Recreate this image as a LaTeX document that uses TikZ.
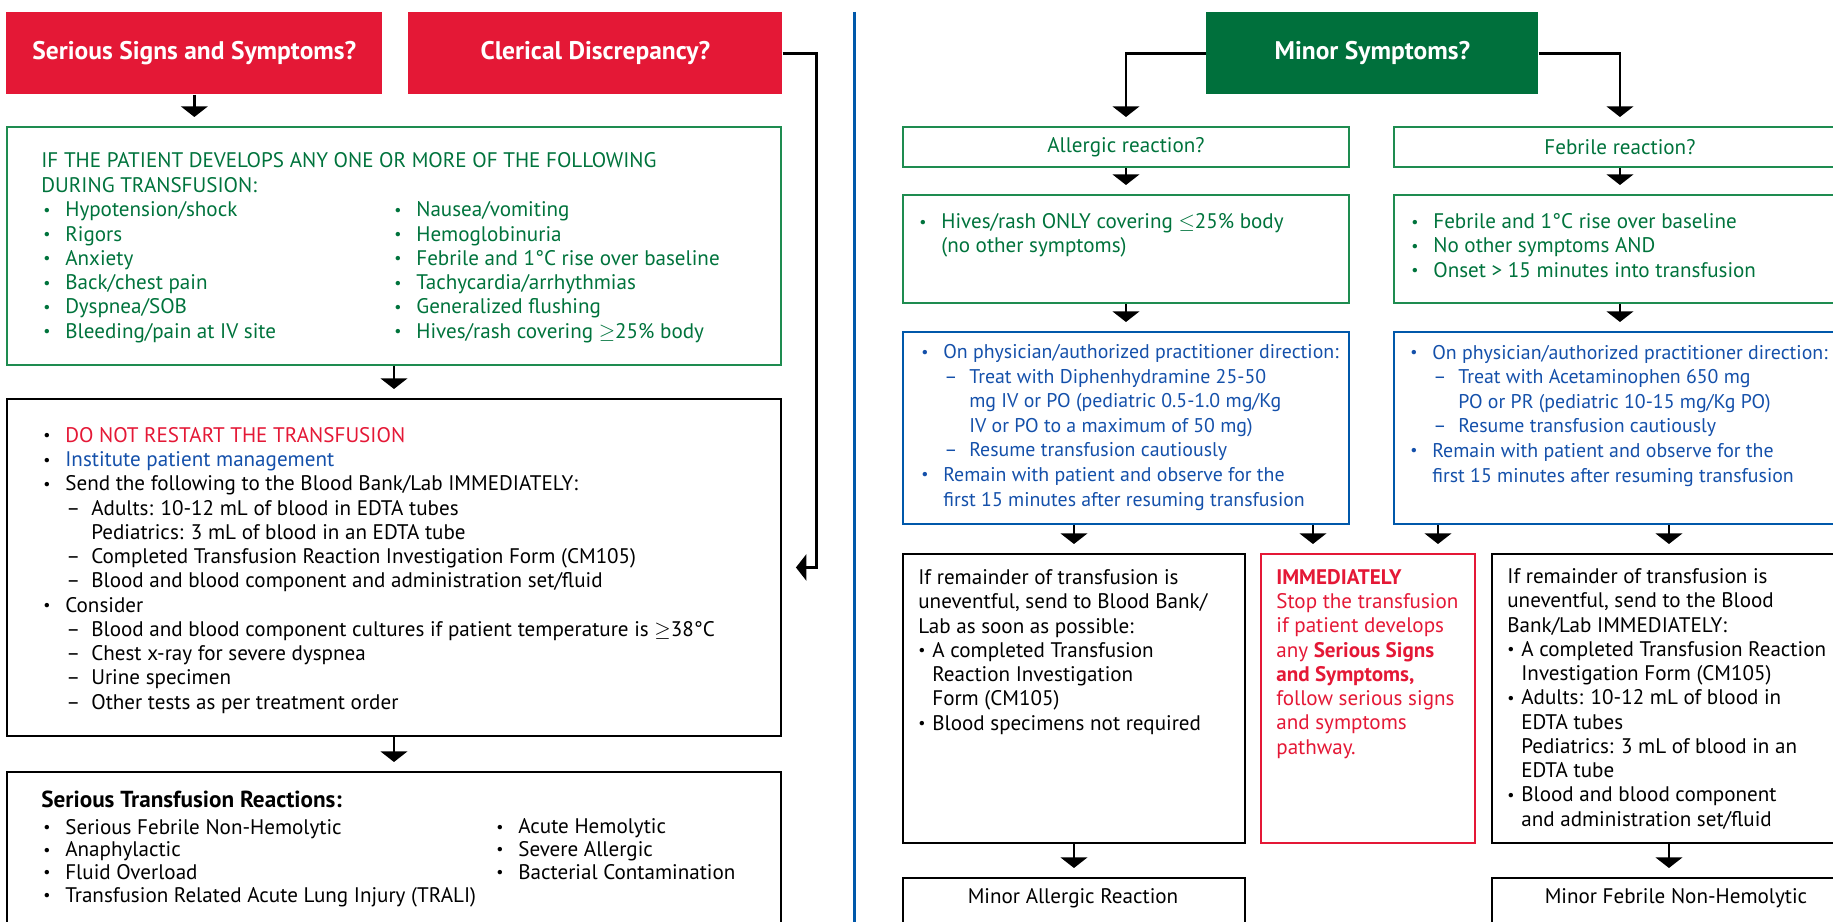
\documentclass[tikz,border=0pt]{standalone}
\usepackage{fontspec}
\setmainfont{PT Sans}
\usetikzlibrary{arrows.meta,positioning}
\definecolor{trred}{RGB}{228,24,54}
\definecolor{trgreen}{RGB}{0,112,60}
\definecolor{trgreenline}{RGB}{30,140,80}
\definecolor{trgreentx}{RGB}{0,115,60}
\definecolor{trblue}{RGB}{0,88,170}
\definecolor{trbluetx}{RGB}{20,80,170}
% list helpers
\newcommand{\dotb}{\raisebox{0.8pt}{\fontsize{9}{9}\selectfont\textbullet}}
\newcommand{\bi}{\makebox[0.44cm][l]{\dotb}}
\newcommand{\bj}{\makebox[0.28cm][l]{\dotb}}
\newcommand{\di}{\hspace*{0.46cm}\makebox[0.5cm][l]{--}}
\newcommand{\ci}{\hspace*{0.44cm}}
\newcommand{\cj}{\hspace*{0.28cm}}
\newcommand{\cdi}{\hspace*{0.96cm}}
\tikzset{
  box/.style={draw, line width=1.1pt, anchor=north west, inner sep=0pt},
  wh/.style 2 args={minimum width=#1*0.02cm, minimum height=#2*0.02cm},
  hdr/.style={anchor=north west, inner sep=0pt, text=white,
    font=\fontsize{14.5}{17}\selectfont\bfseries},
  txt/.style={anchor=base west, inner sep=0pt, align=left},
  bluetx/.style={txt, text=trbluetx, font=\fontsize{11.3}{14}\selectfont},
  arr/.style={line width=1.4pt, -{Triangle[width=15pt,length=6pt]}, shorten >=0.18cm},
}
\begin{document}
\begin{tikzpicture}[x=0.02cm, y=-0.02cm, font=\fontsize{12}{13.8}\selectfont]
\useasboundingbox (0,0) rectangle (1833,922);
\clip (0,0) rectangle (1833,922);
% Serious signs pathway (text nodes sit on their last baseline)
\node[hdr, fill=trred, wh={376}{82}] (ssym) at (6,12) {Serious Signs and Symptoms?};
\node[hdr, fill=trred, wh={374}{82}] (cler) at (408,12) {Clerical Discrepancy?};
\node[box, draw=trgreenline, wh={774}{238}] (signs) at (6,126) {};
\node[box, wh={774}{337}] (mgmt) at (6,398) {};
\node[box, wh={774}{200}] (serious) at (6,771) {};
\node[txt, text=trgreentx, font=\fontsize{12}{14.7}\selectfont] (signshd) at (41,193)
  {IF THE PATIENT DEVELOPS ANY ONE OR MORE OF THE FOLLOWING\\DURING TRANSFUSION:};
\node[txt, text=trgreentx] (signsa) at (43,338)
  {\bi Hypotension/shock\\ \bi Rigors\\ \bi Anxiety\\ \bi Back/chest pain\\
   \bi Dyspnea/SOB\\ \bi Bleeding/pain at IV site};
\node[txt, text=trgreentx] (signsb) at (394,338)
  {\bi Nausea/vomiting\\ \bi Hemoglobinuria\\ \bi Febrile and 1°C rise over baseline\\
   \bi Tachycardia/arrhythmias\\ \bi Generalized flushing\\ \bi Hives/rash covering $\geq$25\% body};
\node[txt] (mgmttx) at (43,709)
  {\bi\textcolor{trred}{DO NOT RESTART THE TRANSFUSION}\\
   \bi\textcolor{trbluetx}{Institute patient management}\\
   \bi Send the following to the Blood Bank/Lab IMMEDIATELY:\\
   \di Adults: 10-12 mL of blood in EDTA tubes\\
   \cdi Pediatrics: 3 mL of blood in an EDTA tube\\
   \di Completed Transfusion Reaction Investigation Form (CM105)\\
   \di Blood and blood component and administration set/fluid\\
   \bi Consider\\
   \di Blood and blood component cultures if patient temperature is $\geq$38°C\\
   \di Chest x-ray for severe dyspnea\\
   \di Urine specimen\\
   \di Other tests as per treatment order};
\node[txt, font=\fontsize{13.2}{13}\selectfont\bfseries] (serioushd) at (41,807) {Serious Transfusion Reactions:};
\node[txt, font=\fontsize{12}{12.9}\selectfont] (seriousa) at (43,902)
  {\bi Serious Febrile Non-Hemolytic\\ \bi Anaphylactic\\ \bi Fluid Overload\\
   \bi Transfusion Related Acute Lung Injury (TRALI)};
\node[txt, font=\fontsize{12}{12.9}\selectfont] (seriousb) at (496,879)
  {\bi Acute Hemolytic\\ \bi Severe Allergic\\ \bi Bacterial Contamination};
\draw[arr] (ssym.south) -- (ssym.south |- signs.north);
\draw[arr] (signs.south) -- (mgmt.north);
\draw[arr] (mgmt.south) -- (serious.north);
\draw[arr, shorten >=0.28cm] (cler.east) -- ++(34,0) |- (mgmt.east);
% Separator
\draw[trblue, line width=1.7pt] (854,12) -- (854,930);
% Minor symptoms pathway
\node[hdr, fill=trgreen, wh={332}{82}] (minor) at (1206,12) {Minor Symptoms?};
\node[box, draw=trgreenline, text=trgreentx, wh={446}{40}] (allerg) at (902,126) {Allergic reaction?};
\node[box, draw=trgreenline, text=trgreentx, wh={452}{40}] (febr) at (1393,126) {Febrile reaction?};
\node[box, draw=trgreenline, wh={446}{108}] (hives) at (902,194) {};
\node[box, draw=trgreenline, wh={452}{108}] (febsx) at (1393,194) {};
\node[box, draw=trblue, wh={446}{192}] (bluea) at (902,331) {};
\node[box, draw=trblue, wh={452}{192}] (bluef) at (1393,331) {};
\node[box, wh={342}{289}] (blacka) at (902,553) {};
\node[box, draw=trred, wh={214}{289}] (redbox) at (1260,553) {};
\node[box, wh={354}{289}] (blackf) at (1491,553) {};
\node[box, wh={342}{100}] (mina) at (902,877) {};
\node[box, wh={354}{100}] (minf) at (1491,877) {};
\node[txt, text=trgreentx] (hivestx) at (919,253)
  {\bi Hives/rash ONLY covering $\leq$25\% body\\ \ci (no other symptoms)};
\node[txt, text=trgreentx] (febsxtx) at (1411,277)
  {\bi Febrile and 1°C rise over baseline\\ \bi No other symptoms AND\\
   \bi Onset > 15 minutes into transfusion};
\node[bluetx] (blueatx) at (921,506)
  {\bi On physician/authorized practitioner direction:\\
   \di Treat with Diphenhydramine 25-50\\
   \cdi mg IV or PO (pediatric 0.5-1.0 mg/Kg\\
   \cdi IV or PO to a maximum of 50 mg)\\
   \di Resume transfusion cautiously\\
   \bi Remain with patient and observe for the\\
   \ci first 15 minutes after resuming transfusion};
\node[bluetx] (blueftx) at (1410,482)
  {\bi On physician/authorized practitioner direction:\\
   \di Treat with Acetaminophen 650 mg\\
   \cdi PO or PR (pediatric 10-15 mg/Kg PO)\\
   \di Resume transfusion cautiously\\
   \bi Remain with patient and observe for the\\
   \ci first 15 minutes after resuming transfusion};
\node[txt] (blackatx) at (918,730)
  {If remainder of transfusion is\\ uneventful, send to Blood Bank/\\ Lab as soon as possible:\\
   \bj A completed Transfusion\\ \cj Reaction Investigation\\ \cj Form (CM105)\\
   \bj Blood specimens not required};
\node[txt, text=trred] (redtx) at (1276,754)
  {\textbf{IMMEDIATELY}\\ Stop the transfusion\\ if patient develops\\ any \textbf{Serious Signs}\\
   \textbf{and Symptoms,}\\ follow serious signs\\ and symptoms\\ pathway.};
\node[txt] (blackftx) at (1507,826)
  {If remainder of transfusion is\\ uneventful, send to the Blood\\ Bank/Lab IMMEDIATELY:\\
   \bj A completed Transfusion Reaction\\ \cj Investigation Form (CM105)\\
   \bj Adults: 10-12 mL of blood in\\ \cj EDTA tubes\\ \cj Pediatrics: 3 mL of blood in an\\
   \cj EDTA tube\\ \bj Blood and blood component\\ \cj and administration set/fluid};
\node[inner sep=0pt] (minatx) at (1073,898) {Minor Allergic Reaction};
\node[inner sep=0pt] (minftx) at (1676,898) {Minor Febrile Non-Hemolytic};
\draw[arr] (minor.west) -| (allerg.north);
\draw[arr] (minor.east) -| (febr.north);
\draw[arr] (allerg.south) -- (hives.north);
\draw[arr] (febr.south) -- (febsx.north);
\draw[arr] (hives.south) -- (bluea.north);
\draw[arr] (febsx.south) -- (bluef.north);
\draw[arr] (bluea.south -| blacka.north) -- (blacka.north);
\draw[arr] ([xshift=-0.74cm]bluea.south east) -- ([xshift=-0.74cm]bluea.south east |- redbox.north);
\draw[arr] ([xshift=0.9cm]bluef.south west) -- ([xshift=0.9cm]bluef.south west |- redbox.north);
\draw[arr] (bluef.south -| blackf.north) -- (blackf.north);
\draw[arr] (blacka.south) -- (mina.north);
\draw[arr] (blackf.south) -- (minf.north);
\end{tikzpicture}
\end{document}
